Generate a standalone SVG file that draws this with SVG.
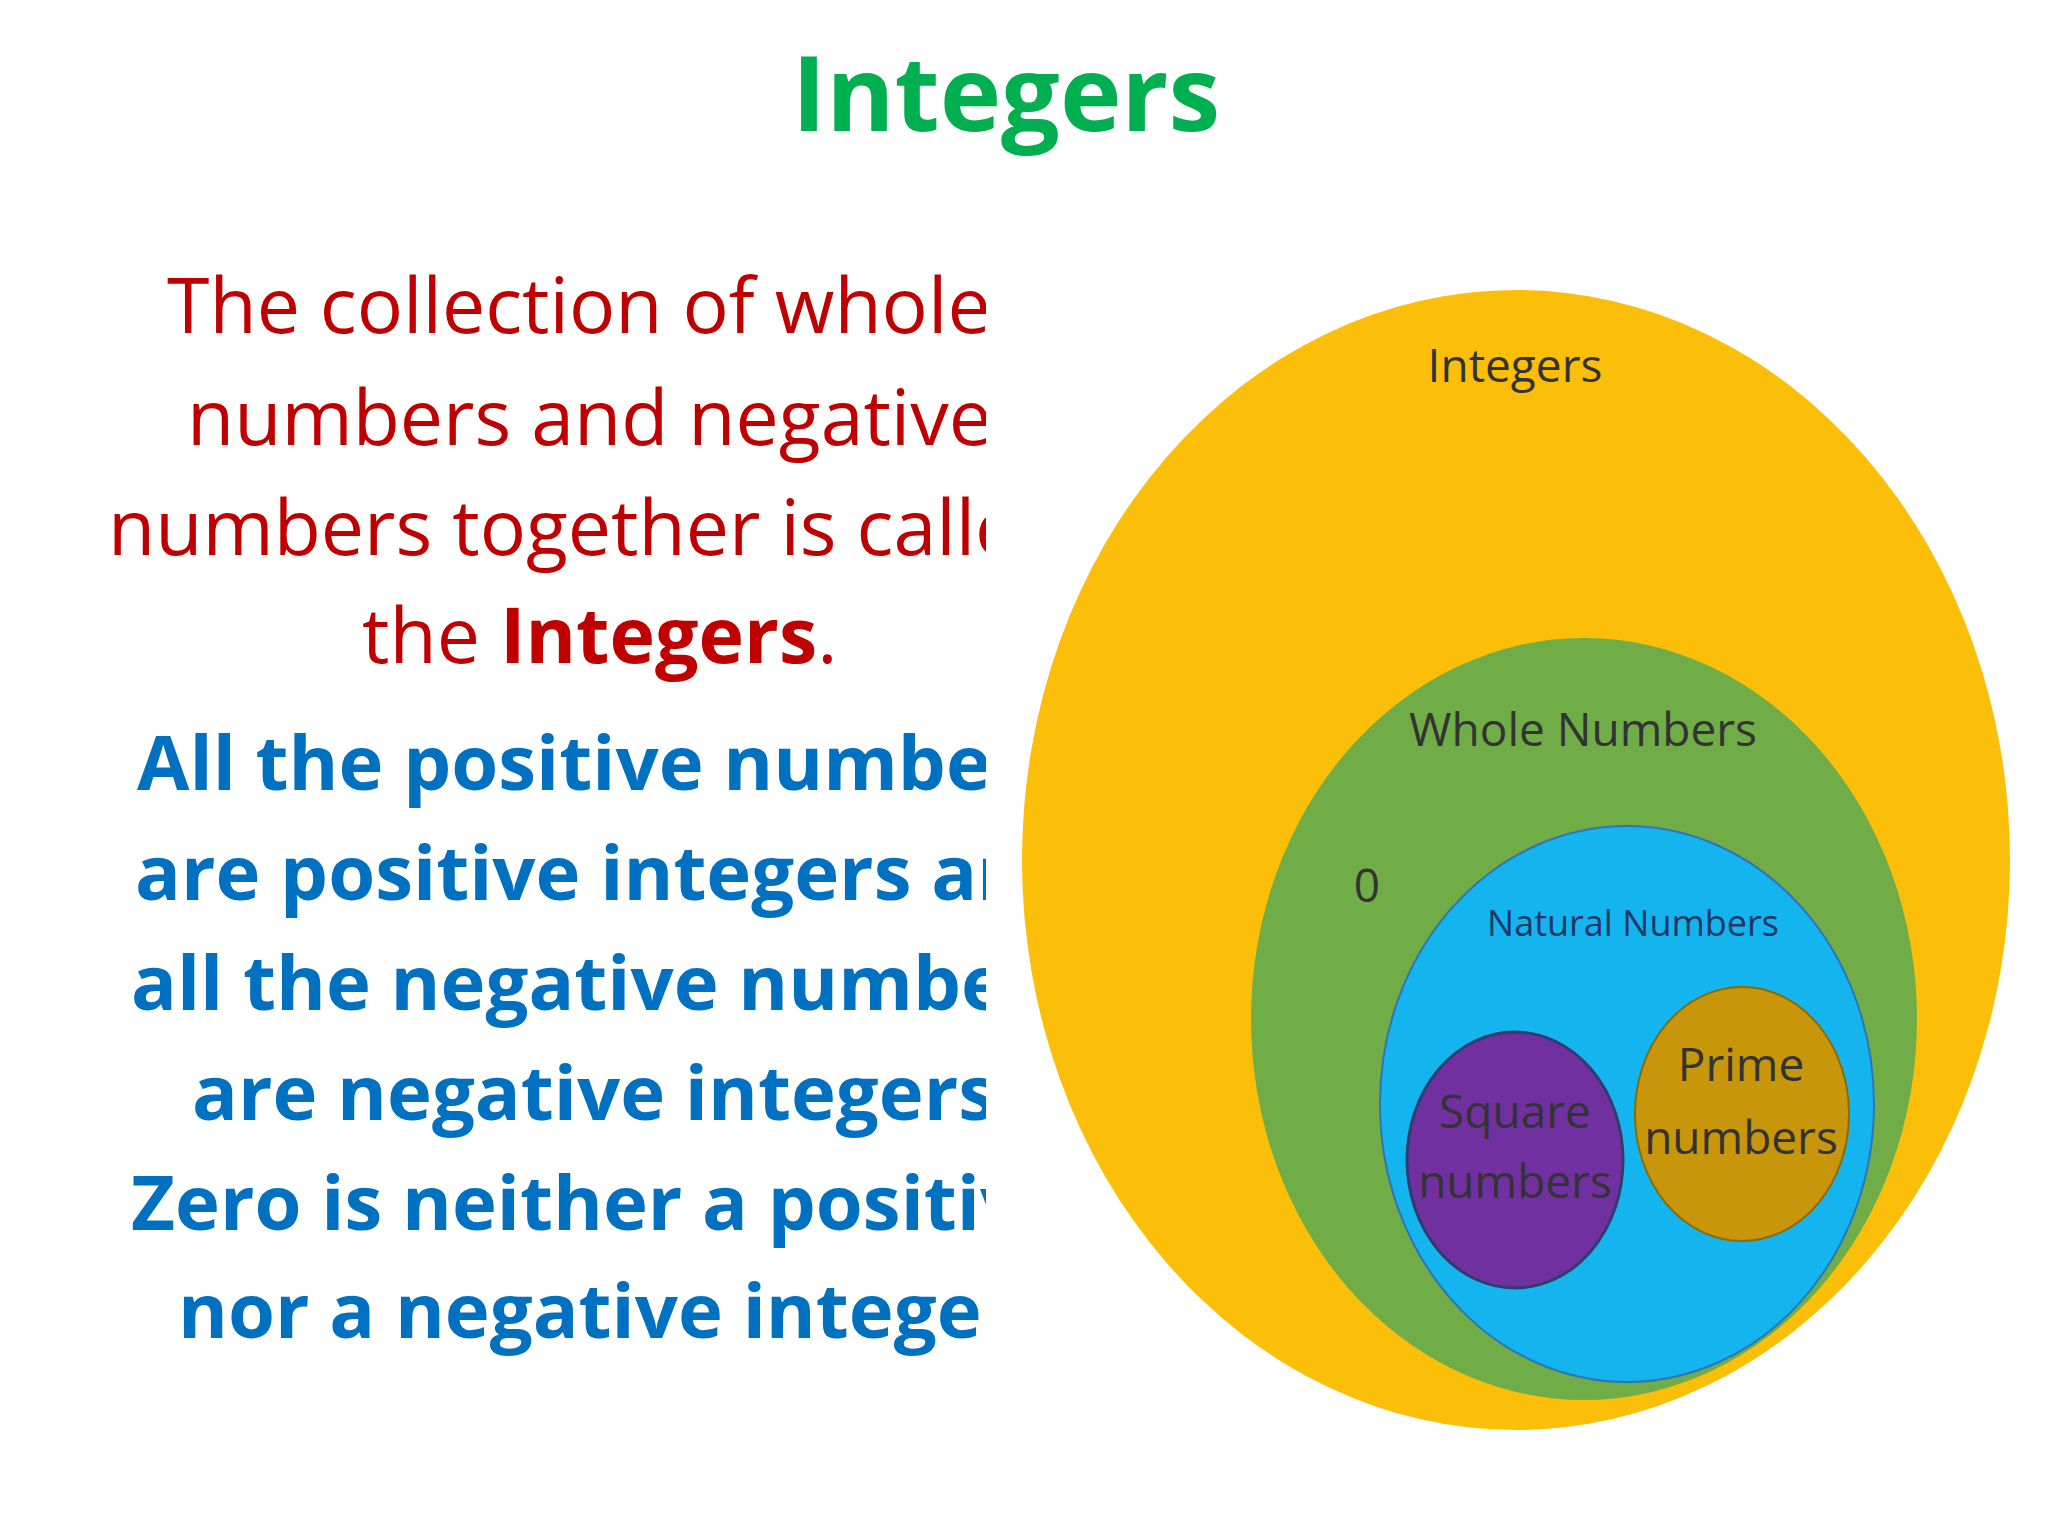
<svg xmlns="http://www.w3.org/2000/svg" width="2048" height="1536" viewBox="0 0 2048 1536">
<style>
.t{font-family:"Open Sans","Liberation Sans",sans-serif}
.red{fill:#C00000;font-size:77px}
.blue{fill:#0070C0;font-size:76px;font-weight:bold}
.lab{fill:#333;font-size:46px;text-anchor:middle}
</style>
<defs><clipPath id="c"><rect x="0" y="0" width="986" height="1536"/></clipPath></defs>
<rect width="2048" height="1536" fill="#fff"/>
<text class="t" x="1006" y="131" text-anchor="middle" font-size="104" font-weight="bold" fill="#00B050">Integers</text>
<g id="text" clip-path="url(#c)" class="t">
<text class="red" x="167" y="333">The collection of whole</text>
<text class="red" x="187" y="445">numbers and negative</text>
<text class="red" x="108" y="555">numbers together is called</text>
<text class="red" x="362" y="663">the <tspan font-weight="bold">Integers</tspan>.</text>
<text class="blue" x="137" y="790">All the positive numbers</text>
<text class="blue" x="135" y="900">are positive integers and</text>
<text class="blue" x="131" y="1010">all the negative numbers</text>
<text class="blue" x="192" y="1120">are negative integers.</text>
<text class="blue" x="131" y="1230">Zero is neither a positive</text>
<text class="blue" x="178" y="1338">nor a negative integer</text>
</g>
<g id="integers"><ellipse cx="1516" cy="860" rx="494" ry="570" fill="#FBBF0A"/><text class="t lab" x="1515" y="382">Integers</text></g>
<g id="whole"><ellipse cx="1584" cy="1019" rx="333" ry="381" fill="#70AD47"/><text class="t lab" x="1583" y="746">Whole Numbers</text><text class="t lab" x="1367" y="902">0</text></g>
<g id="natural"><ellipse cx="1627" cy="1104" rx="247" ry="278" fill="#14B4EF" stroke="#2E75B6" stroke-width="2"/><text class="t" x="1633" y="936" text-anchor="middle" font-size="36" fill="#1F3864">Natural Numbers</text></g>
<g id="square"><ellipse cx="1515" cy="1160" rx="108" ry="128" fill="#7030A0" stroke="#2F3C6E" stroke-width="3"/><text class="t lab" x="1515" y="1128">Square</text><text class="t lab" x="1515" y="1198">numbers</text></g>
<g id="prime"><ellipse cx="1742" cy="1114" rx="107" ry="127" fill="#C8960A" stroke="#8C6A00" stroke-width="2"/><text class="t lab" x="1741" y="1081">Prime</text><text class="t lab" x="1741" y="1154">numbers</text></g>
<g id="connectors"/>
</svg>
